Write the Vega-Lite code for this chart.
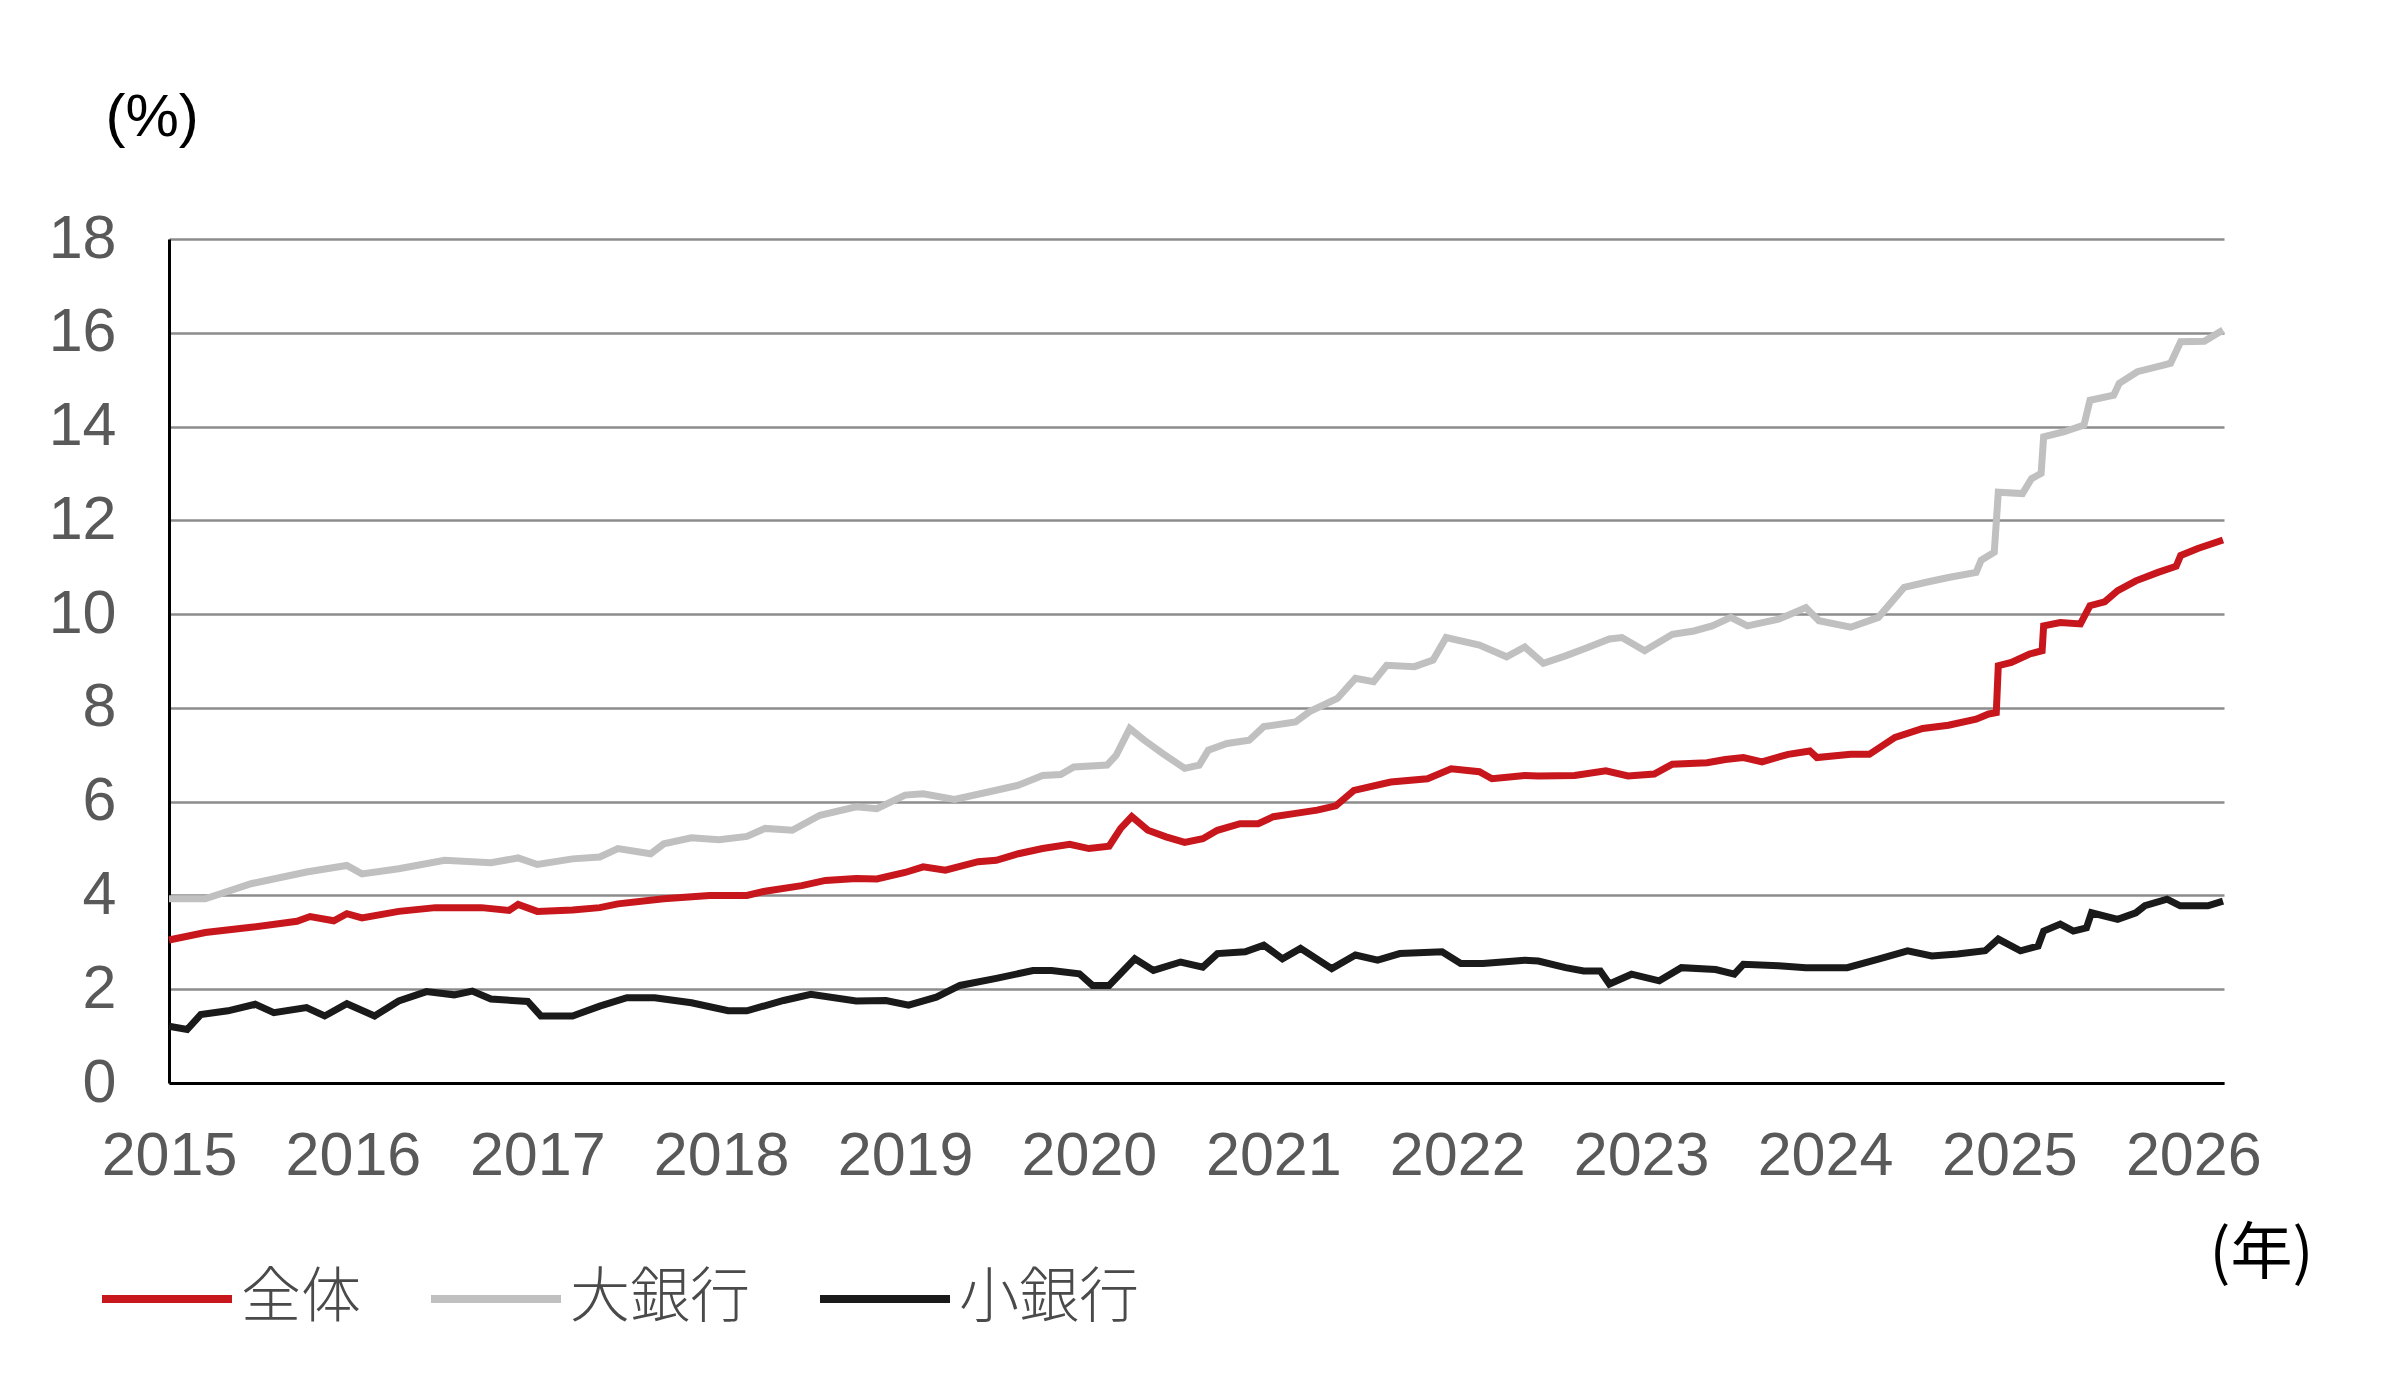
{
  "$schema": "https://vega.github.io/schema/vega-lite/v6.json",
  "width": 2055,
  "height": 844,
  "autosize": {"type": "none"},
  "padding": {"left": 169, "top": 239, "right": 180, "bottom": 297},
  "background": "white",
  "config": {
    "view": {"stroke": null},
    "font": "Liberation Sans"
  },
  "data": {
    "values": [
      {"date": "2015-01-01", "series": "全体", "value": 3.05}, {"date": "2015-03-14", "series": "全体", "value": 3.21},
      {"date": "2015-06-13", "series": "全体", "value": 3.32}, {"date": "2015-09-12", "series": "全体", "value": 3.45},
      {"date": "2015-10-08", "series": "全体", "value": 3.55}, {"date": "2015-11-24", "series": "全体", "value": 3.46},
      {"date": "2015-12-20", "series": "全体", "value": 3.61}, {"date": "2016-01-19", "series": "全体", "value": 3.52},
      {"date": "2016-04-01", "series": "全体", "value": 3.66}, {"date": "2016-06-13", "series": "全体", "value": 3.74},
      {"date": "2016-09-12", "series": "全体", "value": 3.74}, {"date": "2016-11-06", "series": "全体", "value": 3.68},
      {"date": "2016-11-24", "series": "全体", "value": 3.81}, {"date": "2017-01-01", "series": "全体", "value": 3.66},
      {"date": "2017-03-12", "series": "全体", "value": 3.69}, {"date": "2017-05-05", "series": "全体", "value": 3.74},
      {"date": "2017-06-10", "series": "全体", "value": 3.82}, {"date": "2017-09-09", "series": "全体", "value": 3.93},
      {"date": "2017-12-09", "series": "全体", "value": 4.0}, {"date": "2018-02-21", "series": "全体", "value": 4.0},
      {"date": "2018-03-29", "series": "全体", "value": 4.09}, {"date": "2018-06-10", "series": "全体", "value": 4.21},
      {"date": "2018-07-27", "series": "全体", "value": 4.32}, {"date": "2018-09-26", "series": "全体", "value": 4.36},
      {"date": "2018-11-06", "series": "全体", "value": 4.35}, {"date": "2019-01-01", "series": "全体", "value": 4.49},
      {"date": "2019-02-06", "series": "全体", "value": 4.61}, {"date": "2019-03-22", "series": "全体", "value": 4.54},
      {"date": "2019-05-26", "series": "全体", "value": 4.72}, {"date": "2019-07-01", "series": "全体", "value": 4.75},
      {"date": "2019-08-14", "series": "全体", "value": 4.89}, {"date": "2019-10-01", "series": "全体", "value": 5.0},
      {"date": "2019-11-24", "series": "全体", "value": 5.09}, {"date": "2020-01-01", "series": "全体", "value": 5.0},
      {"date": "2020-02-10", "series": "全体", "value": 5.05}, {"date": "2020-03-04", "series": "全体", "value": 5.43},
      {"date": "2020-03-26", "series": "全体", "value": 5.68}, {"date": "2020-04-27", "series": "全体", "value": 5.39},
      {"date": "2020-06-02", "series": "全体", "value": 5.25}, {"date": "2020-07-09", "series": "全体", "value": 5.13},
      {"date": "2020-08-14", "series": "全体", "value": 5.21}, {"date": "2020-09-12", "series": "全体", "value": 5.39},
      {"date": "2020-10-27", "series": "全体", "value": 5.53}, {"date": "2020-12-02", "series": "全体", "value": 5.53},
      {"date": "2021-01-01", "series": "全体", "value": 5.68}, {"date": "2021-02-14", "series": "全体", "value": 5.75},
      {"date": "2021-03-29", "series": "全体", "value": 5.82}, {"date": "2021-05-05", "series": "全体", "value": 5.91},
      {"date": "2021-06-10", "series": "全体", "value": 6.24}, {"date": "2021-08-22", "series": "全体", "value": 6.42},
      {"date": "2021-11-03", "series": "全体", "value": 6.49}, {"date": "2021-12-20", "series": "全体", "value": 6.7},
      {"date": "2022-02-14", "series": "全体", "value": 6.64}, {"date": "2022-03-11", "series": "全体", "value": 6.49},
      {"date": "2022-05-15", "series": "全体", "value": 6.56}, {"date": "2022-06-11", "series": "全体", "value": 6.55},
      {"date": "2022-08-22", "series": "全体", "value": 6.56}, {"date": "2022-10-23", "series": "全体", "value": 6.66},
      {"date": "2022-12-06", "series": "全体", "value": 6.55}, {"date": "2023-01-27", "series": "全体", "value": 6.59},
      {"date": "2023-03-04", "series": "全体", "value": 6.8}, {"date": "2023-05-12", "series": "全体", "value": 6.83},
      {"date": "2023-06-17", "series": "全体", "value": 6.9}, {"date": "2023-07-23", "series": "全体", "value": 6.94},
      {"date": "2023-08-29", "series": "全体", "value": 6.85}, {"date": "2023-10-20", "series": "全体", "value": 7.01},
      {"date": "2023-12-02", "series": "全体", "value": 7.08}, {"date": "2023-12-16", "series": "全体", "value": 6.94},
      {"date": "2024-02-21", "series": "全体", "value": 7.01}, {"date": "2024-03-29", "series": "全体", "value": 7.01},
      {"date": "2024-05-19", "series": "全体", "value": 7.37}, {"date": "2024-07-13", "series": "全体", "value": 7.56},
      {"date": "2024-09-02", "series": "全体", "value": 7.63}, {"date": "2024-10-27", "series": "全体", "value": 7.76},
      {"date": "2024-11-21", "series": "全体", "value": 7.87}, {"date": "2024-12-06", "series": "全体", "value": 7.9},
      {"date": "2024-12-10", "series": "全体", "value": 8.9}, {"date": "2025-01-05", "series": "全体", "value": 8.97},
      {"date": "2025-02-10", "series": "全体", "value": 9.15}, {"date": "2025-03-07", "series": "全体", "value": 9.22},
      {"date": "2025-03-10", "series": "全体", "value": 9.75}, {"date": "2025-04-12", "series": "全体", "value": 9.82},
      {"date": "2025-05-22", "series": "全体", "value": 9.79}, {"date": "2025-06-10", "series": "全体", "value": 10.18},
      {"date": "2025-07-09", "series": "全体", "value": 10.26}, {"date": "2025-08-04", "series": "全体", "value": 10.5},
      {"date": "2025-09-09", "series": "全体", "value": 10.71}, {"date": "2025-10-23", "series": "全体", "value": 10.89},
      {"date": "2025-11-28", "series": "全体", "value": 11.02}, {"date": "2025-12-07", "series": "全体", "value": 11.25},
      {"date": "2026-01-10", "series": "全体", "value": 11.4}, {"date": "2026-03-01", "series": "全体", "value": 11.58},

      {"date": "2015-01-01", "series": "大銀行", "value": 3.93}, {"date": "2015-03-14", "series": "大銀行", "value": 3.93},
      {"date": "2015-06-13", "series": "大銀行", "value": 4.25}, {"date": "2015-10-01", "series": "大銀行", "value": 4.5},
      {"date": "2015-12-20", "series": "大銀行", "value": 4.64}, {"date": "2016-01-19", "series": "大銀行", "value": 4.46},
      {"date": "2016-04-01", "series": "大銀行", "value": 4.57}, {"date": "2016-07-01", "series": "大銀行", "value": 4.75},
      {"date": "2016-10-01", "series": "大銀行", "value": 4.7}, {"date": "2016-11-24", "series": "大銀行", "value": 4.8},
      {"date": "2017-01-01", "series": "大銀行", "value": 4.66}, {"date": "2017-03-12", "series": "大銀行", "value": 4.78},
      {"date": "2017-05-05", "series": "大銀行", "value": 4.82}, {"date": "2017-06-10", "series": "大銀行", "value": 5.0},
      {"date": "2017-08-14", "series": "大銀行", "value": 4.89}, {"date": "2017-09-09", "series": "大銀行", "value": 5.1},
      {"date": "2017-11-03", "series": "大銀行", "value": 5.23}, {"date": "2017-12-28", "series": "大銀行", "value": 5.19},
      {"date": "2018-02-21", "series": "大銀行", "value": 5.26}, {"date": "2018-03-29", "series": "大銀行", "value": 5.43},
      {"date": "2018-05-22", "series": "大銀行", "value": 5.39}, {"date": "2018-07-16", "series": "大銀行", "value": 5.71},
      {"date": "2018-09-26", "series": "大銀行", "value": 5.89}, {"date": "2018-11-06", "series": "大銀行", "value": 5.85},
      {"date": "2019-01-01", "series": "大銀行", "value": 6.14}, {"date": "2019-02-06", "series": "大銀行", "value": 6.17},
      {"date": "2019-04-09", "series": "大銀行", "value": 6.05}, {"date": "2019-06-13", "series": "大銀行", "value": 6.2},
      {"date": "2019-08-14", "series": "大銀行", "value": 6.35}, {"date": "2019-10-01", "series": "大銀行", "value": 6.56},
      {"date": "2019-11-06", "series": "大銀行", "value": 6.58}, {"date": "2019-12-02", "series": "大銀行", "value": 6.74},
      {"date": "2020-02-06", "series": "大銀行", "value": 6.78}, {"date": "2020-02-24", "series": "大銀行", "value": 6.99},
      {"date": "2020-03-22", "series": "大銀行", "value": 7.56}, {"date": "2020-04-20", "series": "大銀行", "value": 7.31},
      {"date": "2020-05-26", "series": "大銀行", "value": 7.03}, {"date": "2020-07-09", "series": "大銀行", "value": 6.71},
      {"date": "2020-08-07", "series": "大銀行", "value": 6.78}, {"date": "2020-08-25", "series": "大銀行", "value": 7.1},
      {"date": "2020-10-01", "series": "大銀行", "value": 7.24}, {"date": "2020-11-14", "series": "大銀行", "value": 7.31},
      {"date": "2020-12-13", "series": "大銀行", "value": 7.6}, {"date": "2021-02-14", "series": "大銀行", "value": 7.7},
      {"date": "2021-03-14", "series": "大銀行", "value": 7.92}, {"date": "2021-05-08", "series": "大銀行", "value": 8.2},
      {"date": "2021-06-13", "series": "大銀行", "value": 8.63}, {"date": "2021-07-19", "series": "大銀行", "value": 8.56},
      {"date": "2021-08-14", "series": "大銀行", "value": 8.91}, {"date": "2021-10-08", "series": "大銀行", "value": 8.88},
      {"date": "2021-11-14", "series": "大銀行", "value": 9.02}, {"date": "2021-12-10", "series": "大銀行", "value": 9.5},
      {"date": "2022-02-14", "series": "大銀行", "value": 9.34}, {"date": "2022-04-09", "series": "大銀行", "value": 9.09},
      {"date": "2022-05-15", "series": "大銀行", "value": 9.3}, {"date": "2022-06-21", "series": "大銀行", "value": 8.95},
      {"date": "2022-08-04", "series": "大銀行", "value": 9.11}, {"date": "2022-09-17", "series": "大銀行", "value": 9.29},
      {"date": "2022-10-30", "series": "大銀行", "value": 9.47}, {"date": "2022-11-24", "series": "大銀行", "value": 9.5},
      {"date": "2023-01-08", "series": "大銀行", "value": 9.22}, {"date": "2023-03-04", "series": "大銀行", "value": 9.57},
      {"date": "2023-04-16", "series": "大銀行", "value": 9.64}, {"date": "2023-05-22", "series": "大銀行", "value": 9.75},
      {"date": "2023-06-28", "series": "大銀行", "value": 9.93}, {"date": "2023-07-31", "series": "大銀行", "value": 9.75},
      {"date": "2023-10-01", "series": "大銀行", "value": 9.89}, {"date": "2023-11-24", "series": "大銀行", "value": 10.14},
      {"date": "2023-12-20", "series": "大銀行", "value": 9.86}, {"date": "2024-02-21", "series": "大銀行", "value": 9.72},
      {"date": "2024-04-16", "series": "大銀行", "value": 9.93}, {"date": "2024-06-06", "series": "大銀行", "value": 10.57},
      {"date": "2024-07-20", "series": "大銀行", "value": 10.68}, {"date": "2024-09-02", "series": "大銀行", "value": 10.78},
      {"date": "2024-10-27", "series": "大銀行", "value": 10.89}, {"date": "2024-11-06", "series": "大銀行", "value": 11.15},
      {"date": "2024-12-02", "series": "大銀行", "value": 11.32}, {"date": "2024-12-10", "series": "大銀行", "value": 12.6},
      {"date": "2025-01-27", "series": "大銀行", "value": 12.57}, {"date": "2025-02-14", "series": "大銀行", "value": 12.89},
      {"date": "2025-03-05", "series": "大銀行", "value": 13.0}, {"date": "2025-03-10", "series": "大銀行", "value": 13.78},
      {"date": "2025-04-20", "series": "大銀行", "value": 13.89}, {"date": "2025-05-29", "series": "大銀行", "value": 14.03},
      {"date": "2025-06-10", "series": "大銀行", "value": 14.56}, {"date": "2025-07-27", "series": "大銀行", "value": 14.67},
      {"date": "2025-08-07", "series": "大銀行", "value": 14.92}, {"date": "2025-09-12", "series": "大銀行", "value": 15.17},
      {"date": "2025-11-03", "series": "大銀行", "value": 15.31}, {"date": "2025-11-17", "series": "大銀行", "value": 15.35},
      {"date": "2025-12-07", "series": "大銀行", "value": 15.81}, {"date": "2026-01-23", "series": "大銀行", "value": 15.82},
      {"date": "2026-03-01", "series": "大銀行", "value": 16.06},

      {"date": "2015-01-01", "series": "小銀行", "value": 1.21}, {"date": "2015-02-06", "series": "小銀行", "value": 1.14},
      {"date": "2015-03-05", "series": "小銀行", "value": 1.46}, {"date": "2015-04-28", "series": "小銀行", "value": 1.54},
      {"date": "2015-06-21", "series": "小銀行", "value": 1.68}, {"date": "2015-07-28", "series": "小銀行", "value": 1.5},
      {"date": "2015-10-01", "series": "小銀行", "value": 1.61}, {"date": "2015-11-06", "series": "小銀行", "value": 1.43},
      {"date": "2015-12-20", "series": "小銀行", "value": 1.69}, {"date": "2016-02-13", "series": "小銀行", "value": 1.43},
      {"date": "2016-04-01", "series": "小銀行", "value": 1.75}, {"date": "2016-05-26", "series": "小銀行", "value": 1.95},
      {"date": "2016-07-20", "series": "小銀行", "value": 1.88}, {"date": "2016-08-25", "series": "小銀行", "value": 1.96},
      {"date": "2016-10-01", "series": "小銀行", "value": 1.79}, {"date": "2016-12-13", "series": "小銀行", "value": 1.74},
      {"date": "2017-01-08", "series": "小銀行", "value": 1.43}, {"date": "2017-03-12", "series": "小銀行", "value": 1.43},
      {"date": "2017-05-05", "series": "小銀行", "value": 1.64}, {"date": "2017-06-28", "series": "小銀行", "value": 1.82},
      {"date": "2017-08-22", "series": "小銀行", "value": 1.82}, {"date": "2017-11-03", "series": "小銀行", "value": 1.71},
      {"date": "2018-01-15", "series": "小銀行", "value": 1.54}, {"date": "2018-02-21", "series": "小銀行", "value": 1.54},
      {"date": "2018-05-05", "series": "小銀行", "value": 1.76}, {"date": "2018-06-28", "series": "小銀行", "value": 1.89},
      {"date": "2018-09-26", "series": "小銀行", "value": 1.75}, {"date": "2018-11-24", "series": "小銀行", "value": 1.76},
      {"date": "2019-01-08", "series": "小銀行", "value": 1.66}, {"date": "2019-03-04", "series": "小銀行", "value": 1.83},
      {"date": "2019-04-20", "series": "小銀行", "value": 2.08}, {"date": "2019-07-01", "series": "小銀行", "value": 2.23},
      {"date": "2019-09-12", "series": "小銀行", "value": 2.4}, {"date": "2019-10-19", "series": "小銀行", "value": 2.4},
      {"date": "2019-12-13", "series": "小銀行", "value": 2.33}, {"date": "2020-01-08", "series": "小銀行", "value": 2.08},
      {"date": "2020-02-10", "series": "小銀行", "value": 2.08}, {"date": "2020-04-01", "series": "小銀行", "value": 2.65},
      {"date": "2020-05-08", "series": "小銀行", "value": 2.4}, {"date": "2020-07-01", "series": "小銀行", "value": 2.58},
      {"date": "2020-08-14", "series": "小銀行", "value": 2.47}, {"date": "2020-09-12", "series": "小銀行", "value": 2.76},
      {"date": "2020-11-06", "series": "小銀行", "value": 2.8}, {"date": "2020-12-13", "series": "小銀行", "value": 2.94},
      {"date": "2021-01-19", "series": "小銀行", "value": 2.65}, {"date": "2021-02-24", "series": "小銀行", "value": 2.87},
      {"date": "2021-04-27", "series": "小銀行", "value": 2.44}, {"date": "2021-06-13", "series": "小銀行", "value": 2.73},
      {"date": "2021-07-27", "series": "小銀行", "value": 2.62}, {"date": "2021-09-09", "series": "小銀行", "value": 2.76},
      {"date": "2021-12-02", "series": "小銀行", "value": 2.8}, {"date": "2022-01-08", "series": "小銀行", "value": 2.55},
      {"date": "2022-02-21", "series": "小銀行", "value": 2.55}, {"date": "2022-05-15", "series": "小銀行", "value": 2.62},
      {"date": "2022-06-11", "series": "小銀行", "value": 2.6}, {"date": "2022-08-04", "series": "小銀行", "value": 2.46},
      {"date": "2022-09-09", "series": "小銀行", "value": 2.39}, {"date": "2022-10-12", "series": "小銀行", "value": 2.39},
      {"date": "2022-10-30", "series": "小銀行", "value": 2.11}, {"date": "2022-12-13", "series": "小銀行", "value": 2.32},
      {"date": "2023-02-06", "series": "小銀行", "value": 2.18}, {"date": "2023-03-22", "series": "小銀行", "value": 2.46},
      {"date": "2023-05-29", "series": "小銀行", "value": 2.42}, {"date": "2023-07-05", "series": "小銀行", "value": 2.32},
      {"date": "2023-07-23", "series": "小銀行", "value": 2.53}, {"date": "2023-10-01", "series": "小銀行", "value": 2.5},
      {"date": "2023-11-24", "series": "小銀行", "value": 2.46}, {"date": "2024-02-14", "series": "小銀行", "value": 2.46},
      {"date": "2024-04-16", "series": "小銀行", "value": 2.64}, {"date": "2024-06-13", "series": "小銀行", "value": 2.82},
      {"date": "2024-07-31", "series": "小銀行", "value": 2.71}, {"date": "2024-09-20", "series": "小銀行", "value": 2.75},
      {"date": "2024-11-14", "series": "小銀行", "value": 2.82}, {"date": "2024-12-10", "series": "小銀行", "value": 3.07},
      {"date": "2025-01-23", "series": "小銀行", "value": 2.82}, {"date": "2025-02-27", "series": "小銀行", "value": 2.92},
      {"date": "2025-03-10", "series": "小銀行", "value": 3.24}, {"date": "2025-04-12", "series": "小銀行", "value": 3.39},
      {"date": "2025-05-08", "series": "小銀行", "value": 3.24}, {"date": "2025-06-03", "series": "小銀行", "value": 3.31},
      {"date": "2025-06-13", "series": "小銀行", "value": 3.63}, {"date": "2025-08-04", "series": "小銀行", "value": 3.49},
      {"date": "2025-09-09", "series": "小銀行", "value": 3.63}, {"date": "2025-09-27", "series": "小銀行", "value": 3.78},
      {"date": "2025-11-10", "series": "小銀行", "value": 3.92}, {"date": "2025-12-06", "series": "小銀行", "value": 3.78},
      {"date": "2026-01-30", "series": "小銀行", "value": 3.78}, {"date": "2026-03-01", "series": "小銀行", "value": 3.88}
    ]
  },
  "mark": {"type": "line", "strokeWidth": 7},
  "encoding": {
    "x": {
      "field": "date",
      "type": "temporal",
      "scale": {"domain": [{"year": 2015, "month": 1, "date": 1}, {"year": 2026, "month": 3, "date": 3}]},
      "axis": {
        "format": "%Y",
        "values": [
          {"year": 2015, "month": 1, "date": 1}, {"year": 2016, "month": 1, "date": 1},
          {"year": 2017, "month": 1, "date": 1}, {"year": 2018, "month": 1, "date": 1},
          {"year": 2019, "month": 1, "date": 1}, {"year": 2020, "month": 1, "date": 1},
          {"year": 2021, "month": 1, "date": 1}, {"year": 2022, "month": 1, "date": 1},
          {"year": 2023, "month": 1, "date": 1}, {"year": 2024, "month": 1, "date": 1},
          {"year": 2025, "month": 1, "date": 1}, {"year": 2026, "month": 1, "date": 1}
        ],
        "grid": false,
        "ticks": false,
        "domainColor": "#000000",
        "domainWidth": 3,
        "labelFontSize": 61,
        "labelColor": "#595959",
        "labelPadding": 43,
        "labelFlush": false,
        "labelOverlap": false,
        "title": "(年)",
        "titleFont": "Noto Sans CJK JP",
        "titleFontSize": 62,
        "titleFontWeight": "normal",
        "titleColor": "#000000",
        "titleAlign": "left",
        "titleBaseline": "alphabetic",
        "titleX": 2040,
        "titleY": 190
      }
    },
    "y": {
      "field": "value",
      "type": "quantitative",
      "scale": {"domain": [0, 18], "nice": false},
      "axis": {
        "values": [0, 2, 4, 6, 8, 10, 12, 14, 16, 18],
        "grid": true,
        "gridColor": "#8c8c8c",
        "gridWidth": 2.5,
        "ticks": false,
        "domainColor": "#000000",
        "domainWidth": 3,
        "labelFontSize": 61,
        "labelColor": "#595959",
        "labelPadding": 53,
        "title": "(%)",
        "titleFontSize": 60,
        "titleFontWeight": "normal",
        "titleColor": "#000000",
        "titleAngle": 0,
        "titleAlign": "left",
        "titleBaseline": "alphabetic",
        "titleX": -64,
        "titleY": -104
      }
    },
    "color": {
      "field": "series",
      "type": "nominal",
      "scale": {"domain": ["全体", "大銀行", "小銀行"], "range": ["#c8161d", "#c0c0c0", "#1a1a1a"]},
      "legend": {
        "title": null,
        "orient": "none",
        "direction": "horizontal",
        "legendX": -71,
        "legendY": 991,
        "symbolType": "stroke",
        "symbolSize": 16900,
        "symbolStrokeWidth": 8,
        "labelFont": "Noto Sans CJK JP",
        "labelFontSize": 60,
        "labelFontWeight": 300,
        "labelColor": "#4a4a4a",
        "labelOffset": 5,
        "labelLimit": 500,
        "columnPadding": 54
      }
    }
  }
}
